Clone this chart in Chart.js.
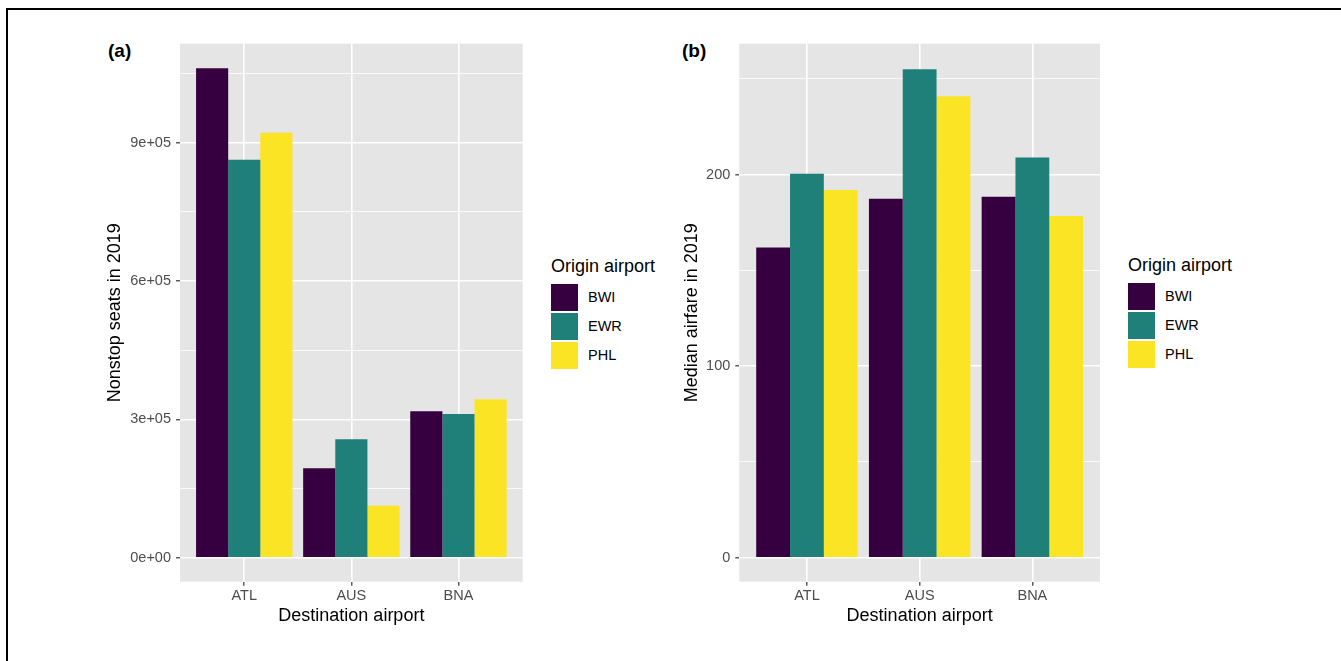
<!DOCTYPE html>
<html>
<head>
<meta charset="utf-8">
<script src="https://cdn.jsdelivr.net/npm/chart.js@4"></script>
<style>
  html, body { margin: 0; padding: 0; background: #fff; width: 1341px; height: 661px; overflow: hidden; font-family: "Liberation Sans", Arial, sans-serif; }
  #frame { position: absolute; left: 6px; top: 8px; width: 1400px; height: 700px; border-left: 2px solid #000; border-top: 2px solid #000; }
  .cv { position: absolute; }
  .tag { position: absolute; font-weight: bold; font-size: 19px; line-height: 22px; color: #000; }
  .legend { position: absolute; color: #000; }
  .legend .ttl { position: absolute; left: 0; top: 0; font-size: 18px; line-height: 22px; white-space: nowrap; }
  .legend .sw { position: absolute; left: 0; width: 27px; height: 27.5px; }
  .legend .lb { position: absolute; left: 37px; font-size: 14.5px; line-height: 27.5px; white-space: nowrap; }
</style>
</head>
<body>
<div id="frame"></div>
<div class="tag" style="left:108px; top:40px;">(a)</div>
<div class="tag" style="left:682px; top:40px;">(b)</div>
<canvas id="ca" class="cv" style="left:95px; top:30px;" width="440" height="620"></canvas>
<canvas id="cb" class="cv" style="left:670px; top:30px;" width="440" height="620"></canvas>
<div id="legA" class="legend" style="left:551px; top:255px;"></div>
<div id="legB" class="legend" style="left:1128px; top:254px;"></div>
<script>
// ---- data ----
const categories = ['ATL', 'AUS', 'BNA'];
const seriesNames = ['BWI', 'EWR', 'PHL'];
const seriesColors = ['#360040', '#1F7F79', '#FBE423'];

const seatsBWI = [1062000, 194000, 318000];
const seatsEWR = [863000, 257000, 311500];
const seatsPHL = [922000, 113000, 344000];

const fareBWI = [162, 187.5, 188.5];
const fareEWR = [200.5, 255, 209];
const farePHL = [192, 241, 178.5];

const seatsMajorTicks = [0, 300000, 600000, 900000];
const seatsTickLabels = ['0e+00', '3e+05', '6e+05', '9e+05'];
const seatsMinorTicks = [150000, 450000, 750000, 1050000];

const fareMajorTicks = [0, 100, 200];
const fareTickLabels = ['0', '100', '200'];
const fareMinorTicks = [50, 150, 250];

// ---- helpers ----
const FONT = '"Liberation Sans", Arial, sans-serif';
const PANEL_BG = '#E5E5E5';

const bgPlugin = {
  id: 'panelBg',
  beforeDraw(chart) {
    const { ctx, chartArea: a } = chart;
    ctx.save();
    ctx.fillStyle = PANEL_BG;
    ctx.fillRect(a.left, a.top, a.right - a.left, a.bottom - a.top);
    ctx.restore();
  }
};

function makeChart(canvasId, seriesValues, majorTicks, tickLabels, minorTicks, yMin, yMax, yTitle, yAxisWidth, yTitlePad, padding) {
  const datasets = seriesValues.map((vals, si) => ({
    label: seriesNames[si],
    data: vals.map((v, ci) => ({ x: ci + 1, y: v })),
    backgroundColor: seriesColors[si],
    borderWidth: 0,
    categoryPercentage: 0.9,
    barPercentage: 1.0
  }));
  const isMajor = v => majorTicks.indexOf(v) !== -1;
  return new Chart(document.getElementById(canvasId), {
    type: 'bar',
    data: { datasets },
    plugins: [bgPlugin],
    options: {
      responsive: false,
      animation: false,
      events: [],
      layout: { padding },
      plugins: { legend: { display: false }, tooltip: { enabled: false } },
      scales: {
        x: {
          type: 'linear',
          min: 0.4,
          max: 3.6,
          offset: false,
          bounds: 'data',
          afterBuildTicks: s => { s.ticks = categories.map((c, i) => ({ value: i + 1 })); },
          afterFit: s => { s.height = 45; },
          ticks: {
            autoSkip: false,
            maxRotation: 0,
            padding: 2,
            color: '#4D4D4D',
            font: { family: FONT, size: 14.5 },
            callback: v => categories[Math.round(v) - 1] || ''
          },
          grid: {
            offset: false,
            color: '#FFFFFF',
            lineWidth: 1.6,
            drawTicks: true,
            tickLength: 4,
            tickColor: '#333333',
            tickWidth: 1.2
          },
          border: { display: false },
          title: {
            display: true,
            text: 'Destination airport',
            color: '#000000',
            font: { family: FONT, size: 18 },
            padding: { top: 0, bottom: 0 }
          }
        },
        y: {
          type: 'linear',
          min: yMin,
          max: yMax,
          bounds: 'data',
          afterBuildTicks: s => {
            s.ticks = majorTicks.concat(minorTicks).sort((a, b) => a - b).map(v => ({ value: v }));
          },
          afterFit: s => { s.width = yAxisWidth; },
          ticks: {
            autoSkip: false,
            padding: 5,
            color: '#4D4D4D',
            font: { family: FONT, size: 14.5 },
            callback: v => { const i = majorTicks.indexOf(v); return i === -1 ? '' : tickLabels[i]; }
          },
          grid: {
            color: '#FFFFFF',
            lineWidth: ctx => (ctx.tick && isMajor(ctx.tick.value)) ? 1.6 : 0.8,
            drawTicks: true,
            tickLength: 4,
            tickColor: ctx => (ctx.tick && isMajor(ctx.tick.value)) ? '#333333' : 'rgba(0,0,0,0)',
            tickWidth: 1.2
          },
          border: { display: false },
          title: {
            display: true,
            text: yTitle,
            color: '#000000',
            font: { family: FONT, size: 18 },
            padding: { top: yTitlePad, bottom: 0 }
          }
        }
      }
    }
  });
}

makeChart('ca', [seatsBWI, seatsEWR, seatsPHL], seatsMajorTicks, seatsTickLabels, seatsMinorTicks,
  -52000, 1115000, 'Nonstop seats in 2019', 85, 9.2, { top: 13.3, right: 12.3, bottom: 23.3, left: 0 });

makeChart('cb', [fareBWI, fareEWR, farePHL], fareMajorTicks, fareTickLabels, fareMinorTicks,
  -12.5, 268.4, 'Median airfare in 2019', 69.3, 10.9, { top: 12.7, right: 10, bottom: 23.3, left: 0 });

// ---- legends (built from the series arrays) ----
function buildLegend(id) {
  const el = document.getElementById(id);
  const t = document.createElement('div');
  t.className = 'ttl';
  t.textContent = 'Origin airport';
  el.appendChild(t);
  seriesNames.forEach((n, i) => {
    const top = 28.5 + i * 29;
    const sw = document.createElement('div');
    sw.className = 'sw';
    sw.style.top = top + 'px';
    sw.style.background = seriesColors[i];
    el.appendChild(sw);
    const lb = document.createElement('div');
    lb.className = 'lb';
    lb.style.top = top + 'px';
    lb.textContent = n;
    el.appendChild(lb);
  });
}
buildLegend('legA');
buildLegend('legB');
</script>
</body>
</html>
